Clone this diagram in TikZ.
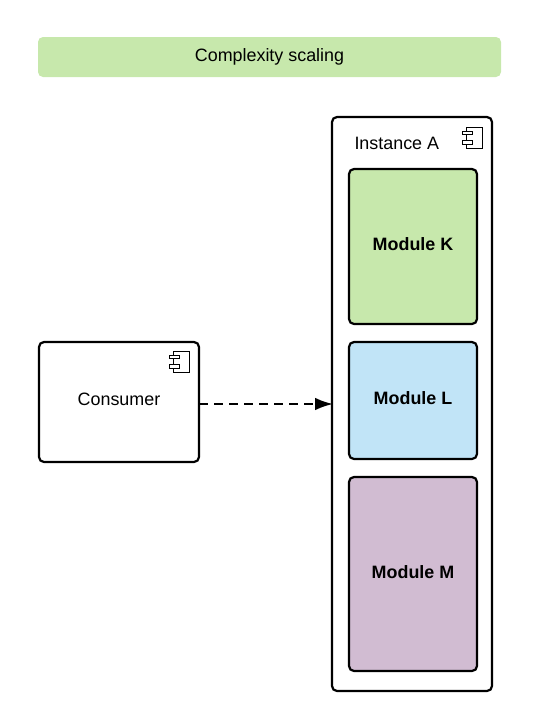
\documentclass[tikz,border=0pt]{standalone}
\usepackage{fontspec}
\setmainfont{Liberation Sans}
\usetikzlibrary{arrows.meta}
\definecolor{mgreen}{HTML}{C7E8AC}
\definecolor{mblue}{HTML}{C1E4F7}
\definecolor{mpurple}{HTML}{D1BCD2}
\tikzset{
  box/.style={draw=black,line width=2.2pt,rounded corners=5pt,fill=white,inner sep=0pt,outer sep=0pt,anchor=center},
  modbox/.style={box,minimum width=128pt},
  banner/.style={fill=mgreen,rounded corners=5pt,inner sep=0pt,outer sep=0pt,minimum width=463pt,minimum height=40pt},
  lbl/.style={inner sep=0pt,font=\fontsize{17.9}{20}\selectfont},
  boldlbl/.style={inner sep=0pt,font=\fontsize{17.9}{20}\selectfont\bfseries},
  icon/.style={draw=black,line width=1pt,fill=white},
  flow/.style={line width=2.4pt,dash pattern=on 9pt off 6pt,shorten >=-1.2pt,-{Latex[length=18pt,width=12.5pt]}},
  pics/compicon/.style={code={
    \draw[icon] (4,0) rectangle (20.5,21);
    \draw[icon] (0,4) rectangle (10,7.5);
    \draw[icon] (0,13.5) rectangle (10,17);
  }}
}
\begin{document}
\begin{tikzpicture}[x=1pt,y=-1pt]
\useasboundingbox (0,0) rectangle (533,728);
\node[banner] (title) at (269.5,57) {};
\node[lbl] (titletext) at (269.5,57) {Complexity scaling};
\node[box,minimum width=160pt,minimum height=120pt] (consumer) at (119,402) {};
\node[lbl] (consumertext) at (119,399.5) {Consumer};
\node[box,minimum width=160pt,minimum height=574pt] (instance) at (412,404) {};
\node[lbl] (instancetext) at (396.8,143.3) {Instance A};
\node[modbox,fill=mgreen,minimum height=155pt] (modk) at (413,246.5) {};
\node[boldlbl] (modktext) at (413,244.4) {Module K};
\node[modbox,fill=mblue,minimum height=117pt] (modl) at (413,400.5) {};
\node[boldlbl] (modltext) at (413,398.5) {Module L};
\node[modbox,fill=mpurple,minimum height=194pt] (modm) at (413,574) {};
\node[boldlbl] (modmtext) at (413,572) {Module M};
\pic at (462,127) {compicon};
\pic at (169,351) {compicon};
\draw[flow] (consumer.east |- instance.west) -- (instance.west);
\end{tikzpicture}
\end{document}
